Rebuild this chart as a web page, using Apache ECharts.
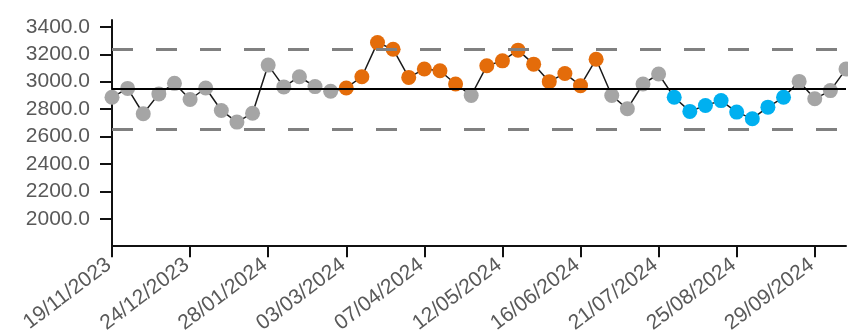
<!DOCTYPE html>
<html>
<head>
<meta charset="utf-8">
<script src="https://cdn.jsdelivr.net/npm/echarts@6/dist/echarts.min.js"></script>
<style>html,body{margin:0;padding:0;background:#fff;}#c{width:848px;height:336px;}</style>
</head>
<body>
<div id="c"></div>
<script>
var categories = [
  '19/11/2023','26/11/2023','03/12/2023','10/12/2023','17/12/2023','24/12/2023','31/12/2023',
  '07/01/2024','14/01/2024','21/01/2024','28/01/2024','04/02/2024','11/02/2024','18/02/2024','25/02/2024',
  '03/03/2024','10/03/2024','17/03/2024','24/03/2024','31/03/2024','07/04/2024','14/04/2024','21/04/2024','28/04/2024',
  '05/05/2024','12/05/2024','19/05/2024','26/05/2024','02/06/2024','09/06/2024','16/06/2024','23/06/2024','30/06/2024',
  '07/07/2024','14/07/2024','21/07/2024','28/07/2024','04/08/2024','11/08/2024','18/08/2024','25/08/2024',
  '01/09/2024','08/09/2024','15/09/2024','22/09/2024','29/09/2024','06/10/2024','13/10/2024'
];
var values = [
  2886, 2951, 2766, 2911, 2988, 2870, 2954,
  2790, 2705, 2770, 3121, 2962, 3036, 2964, 2930,
  2954, 3036, 3285, 3237, 3031, 3092, 3080, 2983, 2899,
  3116, 3152, 3230, 3128, 3000, 3060, 2971, 3164, 2899,
  2802, 2983, 3056, 2886, 2783, 2826, 2862, 2778,
  2730, 2814, 2886, 3002, 2875, 2935, 3092
];
// 0 = common cause, 1 = high run, -1 = low run
var signals = [
  0,0,0,0,0,0,0,
  0,0,0,0,0,0,0,0,
  1,1,1,1,1,1,1,1,0,
  1,1,1,1,1,1,1,1,0,
  0,0,0,-1,-1,-1,-1,-1,
  -1,-1,-1,0,0,0,0
];
var meanValue = 2945;
var upperLimit = 3237;
var lowerLimit = 2652;
var yMin = 1800, yMax = 3450, yStep = 200;

var signalColors = { '0': '#a5a5a5', '1': '#e46c0a', '-1': '#00b0f0' };
var textColor = '#595959';
var fontFam = '"Liberation Sans", Arial, sans-serif';

var chart = echarts.init(document.getElementById('c'), null, { renderer: 'canvas' });
chart.setOption({
  animation: false,
  backgroundColor: '#ffffff',
  grid: { left: 112, right: 2, top: 20, bottom: 88, containLabel: false },
  xAxis: {
    type: 'category',
    data: categories,
    boundaryGap: false,
    axisLine: { show: true, lineStyle: { color: '#111', width: 2 } },
    axisTick: { show: true, interval: 4, length: 11, lineStyle: { color: '#111', width: 2 } },
    axisLabel: {
      interval: 4, rotate: 37, margin: 14,
      padding: [0, 4, 0, 0],
      color: textColor, fontSize: 21, fontFamily: fontFam
    },
    splitLine: { show: false }
  },
  yAxis: {
    type: 'value',
    min: yMin, max: yMax, interval: yStep,
    axisLine: { show: true, lineStyle: { color: '#111', width: 2 } },
    axisTick: { show: true, length: 12, lineStyle: { color: '#111', width: 2 } },
    axisLabel: {
      margin: 22, color: textColor, fontSize: 21, fontFamily: fontFam,
      showMinLabel: false, showMaxLabel: false,
      formatter: function (v) { return (v % yStep === 0) ? v.toFixed(1) : ''; }
    },
    splitLine: { show: false }
  },
  series: [
    {
      type: 'line',
      z: 1,
      data: [],
      markLine: {
        silent: true,
        symbol: ['none', 'none'],
        label: { show: false },
        animation: false,
        data: [
          { yAxis: meanValue, lineStyle: { color: '#000', width: 2, type: 'solid' } },
          { yAxis: upperLimit, lineStyle: { color: '#808080', width: 3, type: [21, 23] } },
          { yAxis: lowerLimit, lineStyle: { color: '#808080', width: 3, type: [21, 23] } }
        ]
      }
    },
    {
      type: 'line',
      z: 3,
      data: values.map(function (v, i) {
        return { value: v, itemStyle: { color: signalColors[String(signals[i])] } };
      }),
      symbol: 'circle',
      symbolSize: 15,
      showAllSymbol: true,
      lineStyle: { color: '#1a1a1a', width: 1.5 },
      itemStyle: { borderWidth: 0 }
    }
  ]
});
</script>
</body>
</html>
